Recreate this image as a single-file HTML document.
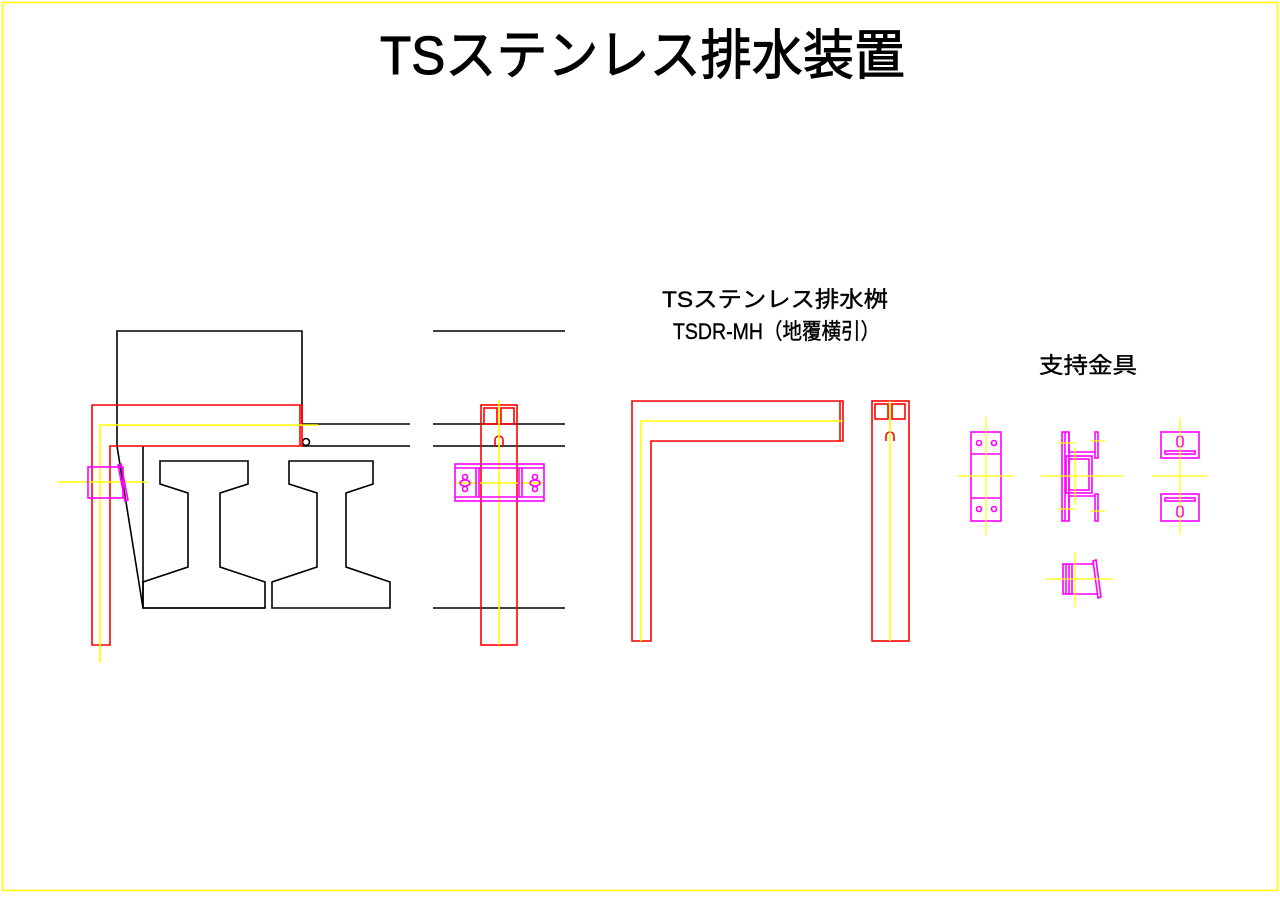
<!DOCTYPE html>
<html><head><meta charset="utf-8"><style>
html,body{margin:0;padding:0;background:#fff;}
svg{display:block;}
text{font-family:"Liberation Sans","Noto Sans CJK JP",sans-serif;fill:#000;}
</style></head><body>
<svg width="1280" height="905" viewBox="0 0 1280 905" xmlns="http://www.w3.org/2000/svg" fill="none" stroke-width="1.6">
<rect x="2.5" y="2.5" width="1275" height="888" stroke="#ffff00"/>
<text x="380" y="74" font-size="54" textLength="525" lengthAdjust="spacingAndGlyphs" stroke="#000" stroke-width="1">TSステンレス排水装置</text>
<text x="662" y="307" font-size="22" textLength="226" lengthAdjust="spacingAndGlyphs" stroke="#000" stroke-width="0.4">TSステンレス排水桝</text>
<text x="673" y="339" font-size="22" textLength="207" lengthAdjust="spacingAndGlyphs" stroke="#000" stroke-width="0.4">TSDR-MH（地覆横引）</text>
<text x="1039" y="373" font-size="22" textLength="98" lengthAdjust="spacingAndGlyphs" stroke="#000" stroke-width="0.4">支持金具</text>

<g stroke="#000">
<polyline points="302,424 302,331 117,331 117,446 143,608 265,608"/>
<line x1="143" y1="446" x2="143" y2="608"/>
<line x1="302" y1="424" x2="410" y2="424"/>
<line x1="302" y1="446" x2="410" y2="446"/>
<polygon points="160,461 248,461 248,484 220,493 220,567 265,582 265,608 143,608 143,582 188,567 188,493 160,484"/>
<polygon points="289,461 373,461 373,484 346,493 346,567 390,582 390,608 272,608 272,582 317,567 317,493 289,484"/>
<circle cx="306" cy="442" r="3.5"/>
<line x1="433" y1="331" x2="565" y2="331"/>
<line x1="433" y1="424" x2="565" y2="424"/>
<line x1="433" y1="446" x2="565" y2="446"/>
<line x1="433" y1="608" x2="565" y2="608"/>
</g>
<g stroke="#ff0000">
<polygon points="92,405 302,405 302,446 110,446 110,645 92,645"/>
<line x1="300" y1="405" x2="300" y2="446"/>
<rect x="481" y="405" width="36" height="240"/>
<rect x="484" y="408" width="13" height="16"/>
<rect x="501" y="408" width="13" height="16"/>
<path d="M495,446 V440 A4,4 0 0 1 503,440 V446"/>
<polygon points="632,401 843,401 843,441 651,441 651,641 632,641"/>
<line x1="840" y1="401" x2="840" y2="441"/>
<rect x="872" y="401" width="37" height="240"/>
<rect x="875" y="404" width="13" height="15"/>
<rect x="892" y="404" width="13" height="15"/>
<path d="M886,441 V436 A4,4 0 0 1 894,436 V441"/>
</g>
<g stroke="#ffff00">
<polyline points="100,663 100,425 318,425"/>
<line x1="58" y1="482" x2="147" y2="482"/>
<line x1="499" y1="400" x2="499" y2="645"/>
<line x1="455" y1="483" x2="544" y2="483"/>
<polyline points="641,641 641,421 843,421"/>
<line x1="890" y1="401" x2="890" y2="641"/>
</g>
<g stroke="#ff00ff">
<rect x="88" y="467" width="35" height="31"/>
<polygon points="118,465 121,464 128,500 125,501"/>
<rect x="455" y="464" width="89" height="37"/>
<line x1="455" y1="468" x2="544" y2="468"/>
<line x1="455" y1="497" x2="544" y2="497"/>
<line x1="476" y1="468" x2="476" y2="497"/><line x1="479" y1="468" x2="479" y2="497"/>
<line x1="519" y1="468" x2="519" y2="497"/><line x1="522" y1="468" x2="522" y2="497"/>
<ellipse cx="465" cy="483" rx="5" ry="3"/><ellipse cx="535" cy="483" rx="5" ry="3"/>
<circle cx="465" cy="477" r="2.5"/><circle cx="465" cy="489" r="2.5"/>
<circle cx="535" cy="477" r="2.5"/><circle cx="535" cy="489" r="2.5"/>
<rect x="971" y="432" width="30" height="89"/>
<line x1="971" y1="454" x2="1001" y2="454"/><line x1="971" y1="498" x2="1001" y2="498"/>
<circle cx="979" cy="443" r="2.5"/><circle cx="994" cy="443" r="2.5"/>
<circle cx="979" cy="509" r="2.5"/><circle cx="994" cy="509" r="2.5"/>
<rect x="1062" y="432" width="7" height="89"/>
<line x1="1065" y1="432" x2="1065" y2="521"/>
<polyline points="1069,432 1069,452 1095,452"/>
<polyline points="1069,521 1069,496 1095,496"/>
<rect x="1066" y="456" width="26" height="37"/>
<rect x="1069" y="459" width="20" height="31"/>
<rect x="1095" y="432" width="3" height="26"/>
<rect x="1095" y="494" width="3" height="27"/>
<rect x="1161" y="432" width="38" height="26"/>
<rect x="1165" y="451" width="30" height="3"/>
<rect x="1177" y="436" width="6" height="11" rx="3"/>
<rect x="1161" y="494" width="38" height="27"/>
<rect x="1165" y="498" width="30" height="3"/>
<rect x="1177" y="506" width="6" height="11" rx="3"/>
<rect x="1063" y="564" width="9" height="30"/>
<line x1="1066" y1="564" x2="1066" y2="594"/><line x1="1069" y1="564" x2="1069" y2="594"/>
<polyline points="1072,564 1093,564"/><polyline points="1072,594 1097,594"/>
<polygon points="1093,561 1096,560 1101,597 1098,598"/>
</g>
<g stroke="#ffff00" stroke-width="1.2">
<line x1="986" y1="417" x2="986" y2="535"/><line x1="958" y1="476" x2="1013" y2="476"/>
<line x1="1041" y1="476" x2="1123" y2="476"/><line x1="1075" y1="448" x2="1075" y2="505"/>
<line x1="1058" y1="443" x2="1075" y2="443"/><line x1="1090" y1="441" x2="1105" y2="441"/>
<line x1="1058" y1="509" x2="1075" y2="509"/><line x1="1090" y1="511" x2="1105" y2="511"/>
<line x1="1180" y1="417" x2="1180" y2="535"/><line x1="1152" y1="476" x2="1207" y2="476"/>
<line x1="1075" y1="552" x2="1075" y2="607"/><line x1="1046" y1="579" x2="1113" y2="579"/>
</g>
</svg>
</body></html>
